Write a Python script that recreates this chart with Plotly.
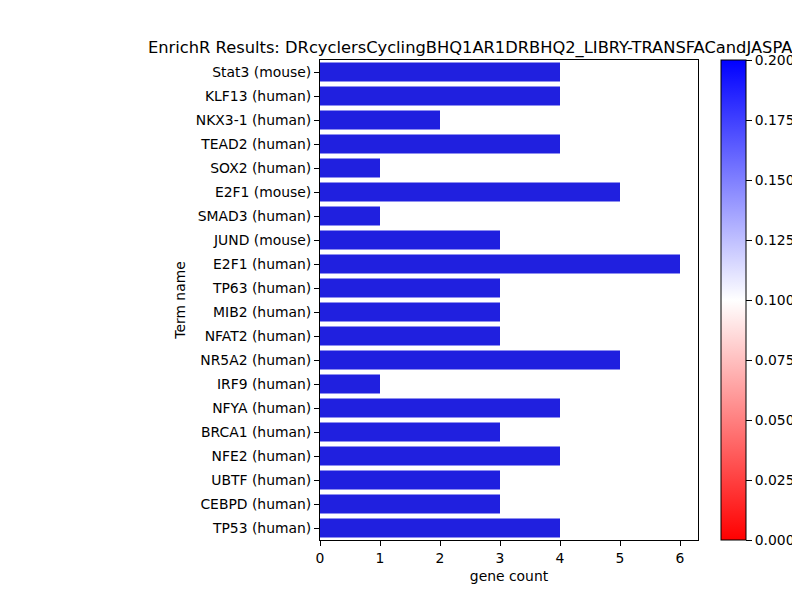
import plotly.graph_objects as go

terms = ["Stat3 (mouse)", "KLF13 (human)", "NKX3-1 (human)", "TEAD2 (human)", "SOX2 (human)",
         "E2F1 (mouse)", "SMAD3 (human)", "JUND (mouse)", "E2F1 (human)", "TP63 (human)",
         "MIB2 (human)", "NFAT2 (human)", "NR5A2 (human)", "IRF9 (human)", "NFYA (human)",
         "BRCA1 (human)", "NFE2 (human)", "UBTF (human)", "CEBPD (human)", "TP53 (human)"]
gene_count = [4, 4, 2, 4, 1, 5, 1, 3, 6, 3, 3, 3, 5, 1, 4, 3, 4, 3, 3, 4]
cbar_ticks = [0.0, 0.025, 0.05, 0.075, 0.1, 0.125, 0.15, 0.175, 0.2]

title = "EnrichR Results: DRcyclersCyclingBHQ1AR1DRBHQ2_LIBRY-TRANSFACandJASPARPWMs"

W, H = 800, 600
OFF = 8  # page body margin
L, R, T, B = 320 - OFF, 698 - OFF, 60 - OFF, 540 - OFF
FS = 13.9
TFS = 16.3

fig = go.Figure()
fig.add_trace(go.Bar(
    x=gene_count, y=terms, orientation="h",
    marker=dict(color="#2020DF", line=dict(width=0)),
    width=0.8, showlegend=False, hoverinfo="x+y",
))
fig.add_trace(go.Scatter(
    x=[0], y=[terms[0]], mode="markers", showlegend=False, hoverinfo="skip",
    marker=dict(size=0.1, opacity=0, color=[0.1], cmin=0, cmax=0.2,
                colorscale=[[0, "#FF0000"], [0.5, "#FFFFFF"], [1, "#0000FF"]],
                showscale=True,
                colorbar=dict(
                    x=(721 - OFF) / W, xanchor="left", xref="container",
                    y=1 - (B + T) / 2 / H, yanchor="middle", yref="container",
                    len=(B - T) / H, lenmode="fraction",
                    thickness=25, thicknessmode="pixels",
                    outlinewidth=1, outlinecolor="black",
                    tickmode="array", tickvals=cbar_ticks, tickformat=".3f",
                    ticks="outside", ticklen=6, tickwidth=1, tickcolor="black",
                    tickfont=dict(family="DejaVu Sans", size=FS, color="black"),
                    xpad=0, ypad=0, bgcolor="rgba(0,0,0,0)", borderwidth=0,
                ))
))

fig.update_layout(
    width=W, height=H,
    margin=dict(l=0, r=0, t=0, b=0, pad=0, autoexpand=False),
    paper_bgcolor="white", plot_bgcolor="white",
    font=dict(family="DejaVu Sans", size=FS, color="black"),
    title=dict(text=title, xref="container", x=(148 - OFF) / W, xanchor="left",
               yref="container", y=1 - (47 - OFF) / H, yanchor="middle",
               font=dict(family="DejaVu Sans", size=TFS, color="black")),
    bargap=0.2,
)
fig.update_xaxes(
    domain=[L / W, R / W],
    range=[0, 6.3], autorange=False, tickmode="array", tickvals=[0, 1, 2, 3, 4, 5, 6],
    showgrid=False, zeroline=False, showline=True, linecolor="black", linewidth=1,
    mirror=True, ticks="outside", ticklen=5, tickwidth=1, tickcolor="black",
    title=dict(text="gene count", standoff=6, font=dict(size=FS)),
    tickfont=dict(size=FS), automargin=False,
)
fig.update_yaxes(
    domain=[1 - B / H, 1 - T / H],
    type="category", categoryorder="array", categoryarray=terms,
    range=[19.5, -0.5], autorange=False,
    showgrid=False, zeroline=False, showline=True, linecolor="black", linewidth=1,
    mirror=True, ticks="outside", ticklen=5, tickwidth=1, tickcolor="black",
    title=dict(text="Term name", standoff=6, font=dict(size=FS)),
    tickfont=dict(size=FS), automargin=False,
)

fig.write_html("out.html")
